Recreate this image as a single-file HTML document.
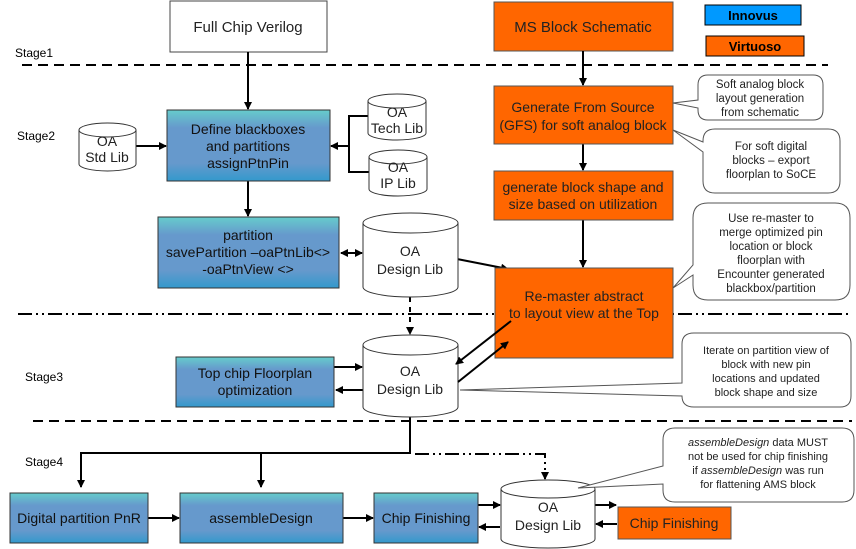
<!DOCTYPE html>
<html><head><meta charset="utf-8"><style>
html,body{margin:0;padding:0;background:#fff;}
svg{display:block;font-family:"Liberation Sans",Arial,sans-serif;}
</style></head><body>
<svg width="856" height="549" viewBox="0 0 856 549" xmlns="http://www.w3.org/2000/svg">
<defs>
<linearGradient id="g" x1="0" y1="0" x2="0" y2="1">
<stop offset="0" stop-color="#66cccc"/><stop offset="0.25" stop-color="#6699cc"/><stop offset="0.75" stop-color="#6699cc"/><stop offset="1" stop-color="#3399cc"/>
</linearGradient>
<marker id="a" markerWidth="8" markerHeight="8" refX="7" refY="4" orient="auto" markerUnits="userSpaceOnUse"><path d="M0,0 L8,4 L0,8 z" fill="#000"/></marker>
<marker id="s" markerWidth="8" markerHeight="8" refX="1" refY="4" orient="auto" markerUnits="userSpaceOnUse"><path d="M8,0 L0,4 L8,8 z" fill="#000"/></marker>
</defs>

<line x1="22" y1="65" x2="828" y2="65" stroke="#000" stroke-width="2" stroke-dasharray="10,6"/>
<line x1="18" y1="314" x2="850" y2="314" stroke="#000" stroke-width="2" stroke-dasharray="14,4,2,4,2,4"/>
<line x1="33" y1="421" x2="852" y2="421" stroke="#000" stroke-width="2" stroke-dasharray="10,6"/>
<g font-size="12" fill="#000">
<text x="15" y="57">Stage1</text>
<text x="17" y="140">Stage2</text>
<text x="25" y="381">Stage3</text>
<text x="25" y="466">Stage4</text>
</g>

<rect x="705" y="5" width="96" height="20" fill="#0099ff" stroke="#000"/>
<text x="753" y="20" font-size="13" font-weight="bold" text-anchor="middle">Innovus</text>
<rect x="706" y="36" width="98" height="20" fill="#ff6600" stroke="#000"/>
<text x="755" y="51" font-size="13" font-weight="bold" text-anchor="middle">Virtuoso</text>

<rect x="170" y="1" width="157" height="51" fill="#fff" stroke="#444"/>
<text x="248" y="32" font-size="15" text-anchor="middle" fill="#222">Full Chip Verilog</text>
<rect x="494" y="2" width="179" height="49" fill="#ff6600" stroke="#555"/>
<text x="583" y="32" font-size="15" text-anchor="middle" fill="#222">MS Block Schematic</text>

<g stroke="#000" stroke-width="2" fill="none">
<line x1="248" y1="52" x2="248" y2="109" marker-end="url(#a)"/>
<line x1="583" y1="51" x2="583" y2="85" marker-end="url(#a)"/>
<line x1="583" y1="144" x2="583" y2="170" marker-end="url(#a)"/>
<line x1="583" y1="220" x2="583" y2="267" marker-end="url(#a)"/>
<line x1="136" y1="146" x2="166" y2="146" marker-end="url(#a)"/>
<polyline points="368,116 349,116 349,172 369,172"/>
<line x1="349" y1="146" x2="331" y2="146" marker-end="url(#a)"/>
<line x1="248" y1="181" x2="248" y2="216" marker-end="url(#a)"/>
<line x1="341" y1="253" x2="362" y2="253" marker-start="url(#s)" marker-end="url(#a)"/>
<line x1="457" y1="259" x2="508" y2="269" marker-end="url(#a)"/>
<line x1="410" y1="297" x2="410" y2="334" stroke-dasharray="5,5" marker-end="url(#a)"/>
<line x1="334" y1="367" x2="362" y2="367" marker-end="url(#a)"/>
<line x1="363" y1="390" x2="336" y2="390" marker-end="url(#a)"/>
<polyline points="410,417 410,453 81,453 81,487" marker-end="url(#a)"/>
<line x1="261" y1="453" x2="261" y2="487" marker-end="url(#a)"/>
<polyline points="415,454 545,454 545,479" stroke-dasharray="14,4,2,4,2,4" marker-end="url(#a)"/>
<line x1="148" y1="518" x2="179" y2="518" marker-end="url(#a)"/>
<line x1="343" y1="518" x2="373" y2="518" marker-end="url(#a)"/>
<line x1="478" y1="505" x2="500" y2="505" marker-end="url(#a)"/>
<line x1="500" y1="527" x2="479" y2="527" marker-end="url(#a)"/>
<line x1="595" y1="505" x2="616" y2="505" marker-end="url(#a)"/>
<line x1="617" y1="524" x2="596" y2="524" marker-end="url(#a)"/>
</g>

<g fill="#fff" stroke="#333" stroke-width="1">
<path d="M79,130 v34 a28.5,7 0 0 0 57,0 v-34 a28.5,7 0 0 0 -57,0 a28.5,7 0 0 0 57,0"/>
<path d="M368,101 v32 a29,7 0 0 0 58,0 v-32 a29,7 0 0 0 -58,0 a29,7 0 0 0 58,0"/>
<path d="M369,157 v32 a29,7 0 0 0 58,0 v-32 a29,7 0 0 0 -58,0 a29,7 0 0 0 58,0"/>
<path d="M363,223 v64 a47.5,10 0 0 0 95,0 v-64 a47.5,10 0 0 0 -95,0 a47.5,10 0 0 0 95,0"/>
<path d="M363,345 v62 a47.5,10 0 0 0 95,0 v-62 a47.5,10 0 0 0 -95,0 a47.5,10 0 0 0 95,0"/>
<path d="M501,489 v50 a47,9 0 0 0 94,0 v-50 a47,9 0 0 0 -94,0 a47,9 0 0 0 94,0"/>
</g>
<g font-size="14" text-anchor="middle" fill="#222">
<text x="107" y="146">OA</text><text x="107" y="162">Std Lib</text>
<text x="397" y="117">OA</text><text x="397" y="133">Tech Lib</text>
<text x="398" y="172">OA</text><text x="398" y="188">IP Lib</text>
<text x="410" y="256">OA</text><text x="410" y="274">Design Lib</text>
<text x="410" y="376">OA</text><text x="410" y="394">Design Lib</text>
<text x="548" y="512">OA</text><text x="548" y="530">Design Lib</text>
</g>

<g fill="url(#g)" stroke="#333">
<rect x="167" y="110" width="163" height="71"/>
<rect x="158" y="217" width="181" height="71"/>
<rect x="176" y="357" width="158" height="50"/>
<rect x="10" y="493" width="138" height="50"/>
<rect x="180" y="493" width="163" height="50"/>
<rect x="374" y="493" width="104" height="50"/>
</g>
<g font-size="14" text-anchor="middle" fill="#111">
<text x="248" y="134">Define blackboxes</text><text x="248" y="151">and partitions</text><text x="248" y="168">assignPtnPin</text>
<text x="248" y="240">partition</text><text x="248" y="257">savePartition –oaPtnLib&lt;&gt;</text><text x="248" y="274">-oaPtnView &lt;&gt;</text>
<text x="255" y="378">Top chip Floorplan</text><text x="255" y="395">optimization</text>
<text x="79" y="523">Digital partition PnR</text>
<text x="261" y="523">assembleDesign</text>
<text x="426" y="523">Chip Finishing</text>
</g>

<g fill="#ff6600" stroke="#555">
<rect x="494" y="86" width="179" height="58"/>
<rect x="494" y="171" width="179" height="49"/>
<rect x="495" y="268" width="178" height="90"/>
<rect x="618" y="507" width="113" height="32"/>
</g>
<g font-size="14" text-anchor="middle" fill="#222">
<text x="583" y="112">Generate From Source</text><text x="583" y="130">(GFS) for soft analog block</text>
<text x="583" y="192">generate block shape and</text><text x="583" y="209">size based on utilization</text>
<text x="584" y="301">Re-master abstract</text><text x="584" y="318">to layout view at the Top</text>
<text x="674" y="528">Chip Finishing</text>
</g>
<g stroke="#000" stroke-width="2" fill="none">
<line x1="511" y1="321" x2="456" y2="364" marker-end="url(#a)"/>
<line x1="458" y1="382" x2="508" y2="342" marker-end="url(#a)"/>
</g>

<g fill="#fff" stroke="#555">
<path d="M708,75 H813 Q823,75 823,85 V110 Q823,120 813,120 H708 Q698,120 698,110 V108 L673,103 L698,100 V85 Q698,75 708,75 Z"/>
<path d="M715,129 H828 Q840,129 840,141 V181 Q840,193 828,193 H715 Q703,193 703,181 V152 L673,130 L703,142 V141 Q703,129 715,129 Z"/>
<path d="M708,203 H835 Q850,203 850,218 V285 Q850,300 835,300 H708 Q693,300 693,285 V275 L673,288 L693,265 V218 Q693,203 708,203 Z"/>
<path d="M694,333 H840 Q851,333 851,344 V396 Q851,407 840,407 H694 Q682,407 682,396 V396 L460,390 L682,383 V344 Q682,333 694,333 Z"/>
<path d="M675,428 H842 Q854,428 854,440 V490 Q854,502 842,502 H675 Q663,502 663,490 V484 L578,488 L663,466 V440 Q663,428 675,428 Z"/>
</g>
<g font-size="11.5" text-anchor="middle" fill="#222">
<text x="760" y="88">Soft analog block</text><text x="760" y="102">layout generation</text><text x="760" y="116">from schematic</text>
<text x="771" y="150">For soft digital</text><text x="771" y="164">blocks – export</text><text x="771" y="178">floorplan to SoCE</text>
<text x="771" y="222">Use re-master to</text><text x="771" y="236">merge optimized pin</text><text x="771" y="250">location or block</text><text x="771" y="264">floorplan with</text><text x="771" y="278">Encounter generated</text><text x="771" y="292">blackbox/partition</text>
<text x="766" y="354" font-size="11">Iterate on partition view of</text><text x="766" y="368" font-size="11">block with new pin</text><text x="766" y="382" font-size="11">locations and updated</text><text x="766" y="396" font-size="11">block shape and size</text>
<text x="758" y="446" font-size="11"><tspan font-style="italic">assembleDesign</tspan> data MUST</text><text x="758" y="460" font-size="11">not be used for chip finishing</text><text x="758" y="474" font-size="11">if <tspan font-style="italic">assembleDesign</tspan> was run</text><text x="758" y="488" font-size="11">for flattening AMS block</text>
</g>
</svg>
</body></html>
